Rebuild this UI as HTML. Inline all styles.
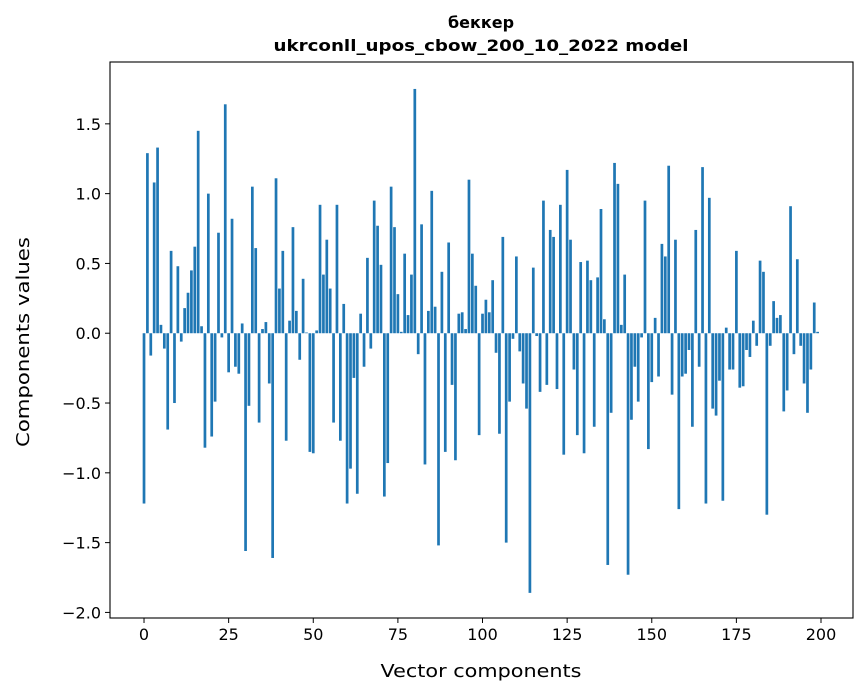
<!DOCTYPE html>
<html><head><meta charset="utf-8"><style>
body{margin:0;background:#fff;}
svg{display:block;font-family:"DejaVu Sans","Liberation Sans",sans-serif;}
</style></head><body>
<svg id="chart" width="867" height="696" viewBox="0 0 867 696" xmlns="http://www.w3.org/2000/svg">
<rect width="867" height="696" fill="#fff"/>
<text x="481" y="28" text-anchor="middle" font-size="16" font-weight="bold">беккер</text>
<text x="481" y="51" text-anchor="middle" font-size="16" font-weight="bold" textLength="415" lengthAdjust="spacingAndGlyphs">ukrconll_upos_cbow_200_10_2022 model</text>
<g id="bars"></g>
<g id="xticks"></g>
<g id="yticks"></g>
<rect x="110" y="62" width="743" height="556" fill="none" stroke="#000" stroke-width="1.1"/>
<text x="481" y="677" text-anchor="middle" font-size="18" textLength="201" lengthAdjust="spacingAndGlyphs">Vector components</text>
<text transform="translate(29,342) rotate(-90)" text-anchor="middle" font-size="18" textLength="210" lengthAdjust="spacingAndGlyphs">Components values</text>
</svg>
<script>
const values = [-1.22,1.29,-0.16,1.08,1.33,0.06,-0.11,-0.69,0.59,-0.50,
0.48,-0.06,0.18,0.29,0.45,0.62,1.45,0.05,-0.82,1.00,
-0.74,-0.49,0.72,-0.03,1.64,-0.28,0.82,-0.24,-0.29,0.07,
-1.56,-0.52,1.05,0.61,-0.64,0.03,0.08,-0.36,-1.61,1.11,
0.32,0.59,-0.77,0.09,0.76,0.16,-0.19,0.39,0.005,-0.85,
-0.86,0.02,0.92,0.42,0.67,0.32,-0.64,0.92,-0.77,0.21,
-1.22,-0.97,-0.32,-1.15,0.14,-0.24,0.54,-0.11,0.95,0.77,
0.49,-1.17,-0.93,1.05,0.76,0.28,0.01,0.57,0.13,0.42,
1.75,-0.15,0.78,-0.94,0.16,1.02,0.19,-1.52,0.44,-0.85,
0.65,-0.37,-0.91,0.14,0.15,0.03,1.10,0.57,0.34,-0.73,
0.14,0.24,0.15,0.38,-0.14,-0.72,0.69,-1.50,-0.49,-0.04,
0.55,-0.13,-0.36,-0.54,-1.86,0.47,-0.02,-0.42,0.95,-0.37,
0.74,0.69,-0.40,0.92,-0.87,1.17,0.67,-0.26,-0.73,0.51,
-0.86,0.52,0.38,-0.67,0.40,0.89,0.10,-1.66,-0.57,1.22,
1.07,0.06,0.42,-1.73,-0.62,-0.24,-0.49,-0.03,0.95,-0.83,
-0.35,0.11,-0.31,0.64,0.55,1.20,-0.44,0.67,-1.26,-0.31,
-0.29,-0.12,-0.67,0.74,-0.24,1.19,-1.22,0.97,-0.54,-0.59,
-0.34,-1.20,0.04,-0.26,-0.26,0.59,-0.39,-0.38,-0.12,-0.17,
0.09,-0.09,0.52,0.44,-1.30,-0.09,0.23,0.11,0.13,-0.56,
-0.41,0.91,-0.15,0.53,-0.09,-0.36,-0.57,-0.26,0.22,0.01];
const xTicks = [0,25,50,75,100,125,150,175,200];
const yTicks = [1.5,1.0,0.5,0.0,-0.5,-1.0,-1.5,-2.0];
const yTickLabels = ["1.5","1.0","0.5","0.0","\u22120.5","\u22121.0","\u22121.5","\u22122.0"];

const NS = "http://www.w3.org/2000/svg";
const px0 = 110, px1 = 853, py0 = 62, py1 = 618;
const xMin = -10.05, xMax = 209.45, yMin = -2.04, yMax = 1.943;
function xs(v){ return px0 + (v - xMin) / (xMax - xMin) * (px1 - px0); }
function ys(v){ return py1 - (v - yMin) / (yMax - yMin) * (py1 - py0); }

const barsG = document.getElementById('bars');
const bw = xs(0.8) - xs(0);
values.forEach((v, i) => {
  const r = document.createElementNS(NS, 'rect');
  
  
  const y0 = ys(0), y1 = ys(v);
  r.setAttribute('x', xs(i) - bw / 2);
  r.setAttribute('y', Math.min(y0, y1));
  r.setAttribute('width', bw);
  r.setAttribute('height', Math.max(Math.abs(y1 - y0), 0.3));
  r.setAttribute('fill', '#1f77b4');
  barsG.appendChild(r);
});

const xg = document.getElementById('xticks');
xTicks.forEach(t => {
  const x = xs(t);
  const l = document.createElementNS(NS, 'line');
  
  
  l.setAttribute('x1', x); l.setAttribute('x2', x);
  l.setAttribute('y1', py1); l.setAttribute('y2', py1 + 5);
  l.setAttribute('stroke', '#000');
  xg.appendChild(l);
  const tx = document.createElementNS(NS, 'text');
  
  
  tx.setAttribute('x', x); tx.setAttribute('y', py1 + 22);
  tx.setAttribute('text-anchor', 'middle');
  tx.setAttribute('font-size', '16');
  tx.textContent = t;
  xg.appendChild(tx);
});

const yg = document.getElementById('yticks');
yTicks.forEach((t, i) => {
  const y = ys(t);
  const l = document.createElementNS(NS, 'line');
  
  
  l.setAttribute('x1', px0 - 5); l.setAttribute('x2', px0);
  l.setAttribute('y1', y); l.setAttribute('y2', y);
  l.setAttribute('stroke', '#000');
  yg.appendChild(l);
  const tx = document.createElementNS(NS, 'text');
  
  
  tx.setAttribute('x', px0 - 9); tx.setAttribute('y', y + 6);
  tx.setAttribute('text-anchor', 'end');
  tx.setAttribute('font-size', '16');
  tx.textContent = yTickLabels[i];
  yg.appendChild(tx);
});
</script>
</body></html>
